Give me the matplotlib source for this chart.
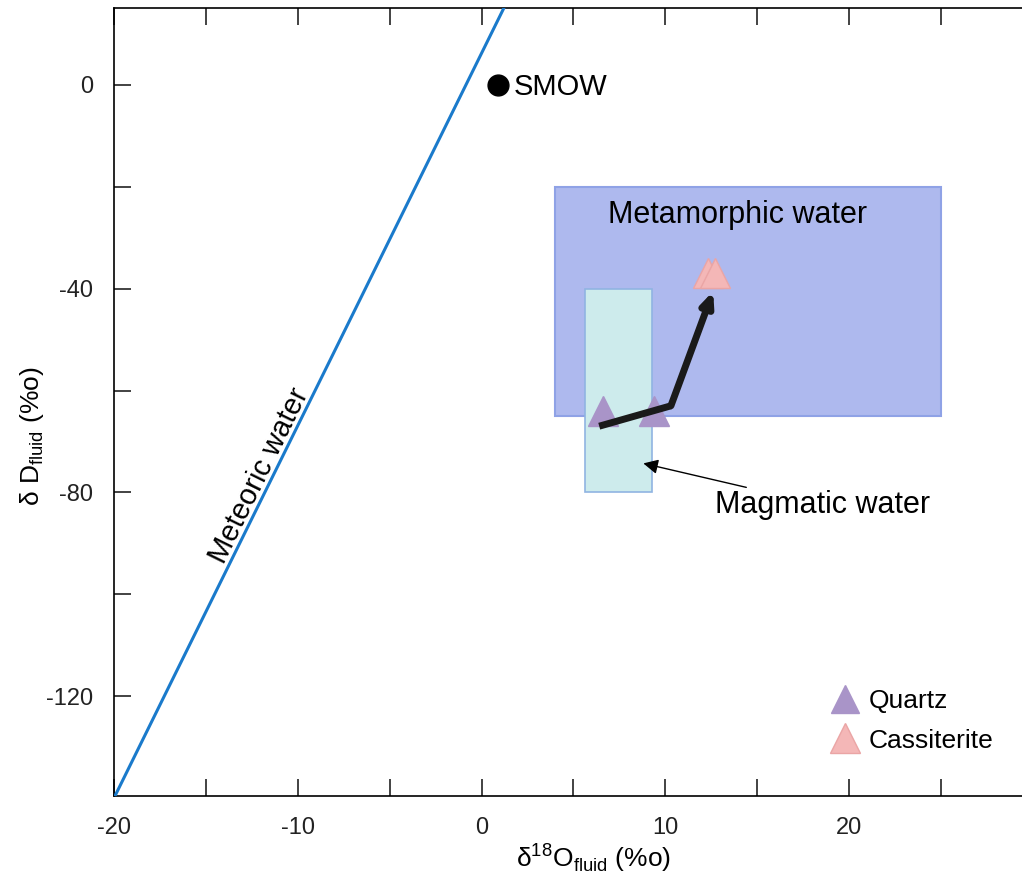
import matplotlib
matplotlib.use("Agg")
from matplotlib import pyplot as plt
from matplotlib.patches import Rectangle

plt.rcParams['font.family'] = ['Liberation Sans', 'DejaVu Sans']
plt.rcParams['mathtext.fontset'] = 'custom'
plt.rcParams['mathtext.rm'] = 'Liberation Sans'

# meteoric water line end points
mwl_x = [-20, 1.2]
mwl_y = [-140, 15]

# SMOW
smow_x = [0.9]
smow_y = [0]

# boxes: (x0, y0, width, height)
meta_box = (4, -65, 21, 45)
magma_box = (5.6, -80, 3.65, 40)

# samples
quartz_x = [6.6, 9.4]
quartz_y = [-64, -64]
cass_x = [12.3, 12.7]
cass_y = [-37, -37]

# evolution path
path_x = [6.4, 10.3, 12.6]
path_y = [-67, -63, -40.5]

xticks = [-20, -15, -10, -5, 0, 5, 10, 15, 20, 25]
xlabels = ['-20', '', '-10', '', '0', '', '10', '', '20', '']
yticks = [0, -20, -40, -60, -80, -100, -120]
ylabels = ['0', '', '-40', '', '-80', '', '-120']


def main():
    fig = plt.figure(figsize=(10.22, 8.76), dpi=100)
    ax = fig.add_axes([0.1115, 0.0913, 0.8885, 0.8996])

    ax.add_patch(Rectangle(meta_box[:2], meta_box[2], meta_box[3],
                           facecolor='#aeb9ee', edgecolor='#8fa2e6', lw=1.5, zorder=1))
    ax.add_patch(Rectangle(magma_box[:2], magma_box[2], magma_box[3],
                           facecolor='#cdebec', edgecolor='#90b4e2', lw=1.2, zorder=2))

    ax.plot(mwl_x, mwl_y, color='#1a7acb', lw=2.2, zorder=3)
    ax.plot(smow_x, smow_y, 'o', color='black', ms=15, zorder=5)
    ax.text(1.75, -0.5, 'SMOW', fontsize=21, va='center', ha='left')

    ax.plot(quartz_x, quartz_y, '^', color='#a994c8', ms=21, mec='#a994c8',
            label='Quartz', zorder=4, linestyle='none')
    ax.plot(cass_x, cass_y, '^', color='#f4b7b7', ms=22, mec='#eaa5a5',
            label='Cassiterite', zorder=4, linestyle='none')

    # arrow path
    ax.plot(path_x[:2], path_y[:2], color='#1a1a1a', lw=5, solid_capstyle='butt', zorder=6)
    ax.annotate('', xy=(path_x[2], path_y[2]), xytext=(path_x[1], path_y[1]),
                arrowprops=dict(arrowstyle='-|>,head_length=0.8,head_width=0.35',
                                color='#1a1a1a', lw=5, shrinkA=0, shrinkB=0), zorder=6)

    ax.text(13.9, -25.5, 'Metamorphic water', fontsize=22, ha='center', va='center')
    ax.annotate('Magmatic water', xy=(8.8, -74.3), xytext=(12.7, -82.5),
                fontsize=22, ha='left', va='center',
                arrowprops=dict(arrowstyle='-|>', color='black', lw=1, shrinkA=0, shrinkB=0))
    ax.text(-11.4, -78, 'Meteoric water', fontsize=21, rotation=63.7,
            rotation_mode='anchor', ha='center', va='bottom')

    ax.set_xlim(-20, 29.4)
    ax.set_ylim(-139.6, 15.1)
    ax.set_xticks(xticks)
    ax.set_xticklabels(xlabels)
    ax.set_yticks(yticks)
    ax.set_yticklabels(ylabels)
    ax.tick_params(direction='in', length=12, width=1.2, labelsize=17,
                   top=True, pad=15, colors='#222222')
    ax.spines['right'].set_visible(False)
    for s in ['left', 'bottom', 'top']:
        ax.spines[s].set_linewidth(1.2)

    ax.set_xlabel(r'δ$^{18}$O$_{\mathrm{fluid}}$ (%o)', fontsize=19, va='center')
    ax.set_ylabel(r'δ D$_{\mathrm{fluid}}$ (%o)', fontsize=19, va='center')
    ax.xaxis.set_label_coords(0.528, -0.078)
    ax.yaxis.set_label_coords(-0.09, 0.456)

    ax.legend(loc='lower right', bbox_to_anchor=(0.995, 0.025), frameon=False,
              fontsize=19, handlelength=1.0, handletextpad=0.4, labelspacing=0.6,
              markerscale=0.95)

    plt.savefig('out.png', dpi=100)


if __name__ == "__main__":
    main()
